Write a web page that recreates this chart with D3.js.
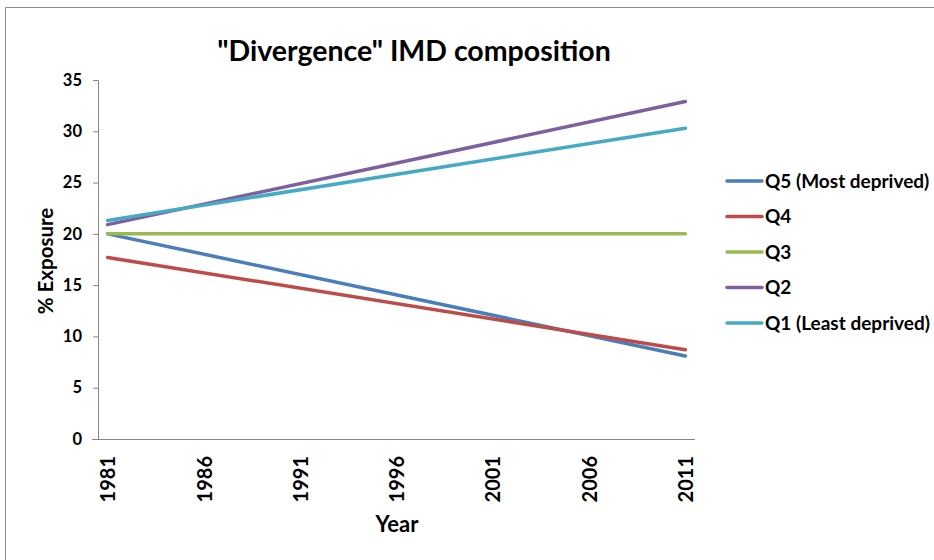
<!DOCTYPE html>
<html><head><meta charset="utf-8">
<script src="https://cdn.jsdelivr.net/npm/d3@7"></script>
<style>body{margin:0;background:#fff}svg{display:block}text{font-family:Lato,"Open Sans",sans-serif;font-weight:bold;fill:#000}</style>
</head><body><svg id="c" width="934" height="560"></svg>
<script>
const years = [1981, 2011];
const tickYears = [1981, 1986, 1991, 1996, 2001, 2006, 2011];
const seriesNames = ["Q5 (Most deprived)", "Q4", "Q3", "Q2", "Q1 (Least deprived)"];
const q5 = [20.0, 8.1];
const q4 = [17.7, 8.7];
const q3 = [20.0, 20.0];
const q2 = [20.9, 32.9];
const q1 = [21.3, 30.3];
const colors = ["#4A7EBB", "#BE4B48", "#98B954", "#7D60A0", "#46AAC5"];
const yTicks = [0, 5, 10, 15, 20, 25, 30, 35];

const svg = d3.select("#c");
svg.append("rect").attr("x",5.5).attr("y",7.5).attr("width",940).attr("height",570)
  .attr("fill","none").attr("stroke","#8c8c8c").attr("stroke-width",1);

const x = d3.scaleLinear().domain([1980.5, 2011.5]).range([98, 695]);
const y = d3.scaleLinear().domain([0, 35]).range([439, 80]);

// y axis
const ya = svg.append("g").attr("transform","translate(98,0)")
  .call(d3.axisLeft(y).tickValues(yTicks).tickSize(5).tickPadding(11));
ya.select(".domain").attr("stroke","#868686");
ya.selectAll(".tick line").attr("stroke","#868686");
ya.selectAll(".tick text").style("font-size","16.5px").style("font-family","Lato").style("font-weight","bold").attr("fill","#000");

// x axis
const xa = svg.append("g").attr("transform","translate(0,439)")
  .call(d3.axisBottom(x).tickValues(tickYears).tickFormat(d3.format("d")).tickSize(0).tickPadding(0));
xa.select(".domain").attr("stroke","#868686").attr("d","M92,0.5H695");
xa.selectAll(".tick text").style("font-size","20px").style("font-family","Lato").style("font-weight","bold").attr("fill","#000")
  .attr("transform","rotate(-90)").attr("text-anchor","end").attr("x",-17).attr("y",0).attr("dy","0.36em");

const series = [q5, q4, q3, q2, q1];
const line = d3.line().x((d,i)=>x(years[i])).y(d=>y(d));
series.forEach((s,k)=>{
  svg.append("path").datum(s).attr("d",line).attr("fill","none")
    .attr("stroke",colors[k]).attr("stroke-width",3.5).attr("stroke-linecap","round");
});

// legend
const lg = svg.append("g");
seriesNames.forEach((n,k)=>{
  const yy = 181 + k*35.5;
  lg.append("line").attr("x1",727).attr("x2",762).attr("y1",yy).attr("y2",yy)
    .attr("stroke",colors[k]).attr("stroke-width",3.5).attr("stroke-linecap","round");
  lg.append("text").attr("x",765).attr("y",yy).attr("dy","0.36em").style("font-size","19px").text(n);
});

// titles
svg.append("text").attr("x",414).attr("y",61).attr("text-anchor","middle").style("font-size","28.5px").text('"Divergence" IMD composition');
svg.append("text").attr("x",397).attr("y",532).attr("text-anchor","middle").style("font-size","22px").text("Year");
svg.append("text").attr("transform","translate(53,261) rotate(-90)").attr("text-anchor","middle").style("font-size","20.5px").text("% Exposure");
</script></body></html>
